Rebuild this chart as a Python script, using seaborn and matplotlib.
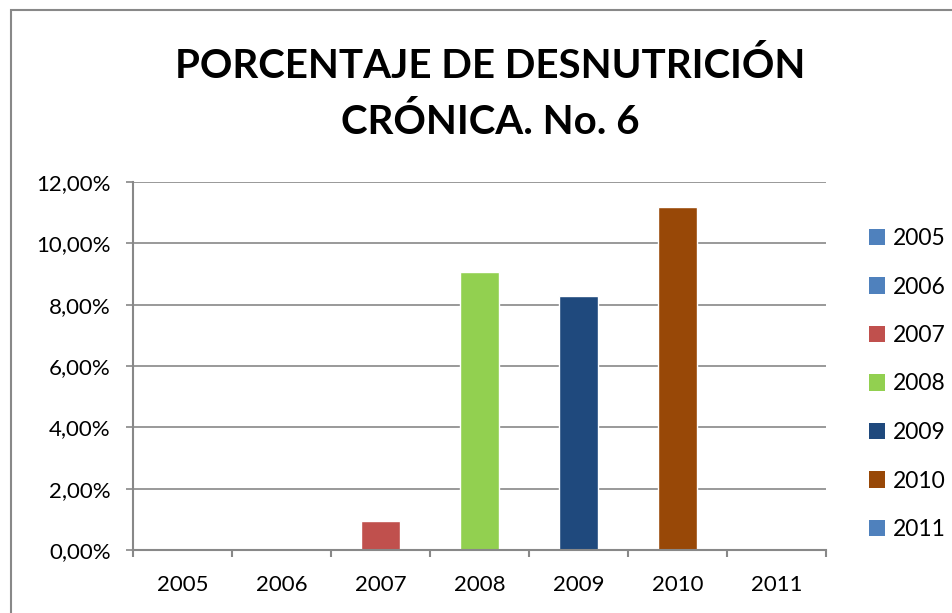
import matplotlib
matplotlib.use('Agg')
import matplotlib.pyplot as plt
from matplotlib.patches import Rectangle, Patch
from matplotlib.ticker import FuncFormatter, FixedLocator
import seaborn as sns
import pandas as pd

# Data
years = ['2005', '2006', '2007', '2008', '2009', '2010', '2011']
values = [0.0, 0.0, 0.93, 9.07, 8.28, 11.18, 0.0]  # percent
colors = ['#4F81BD', '#4F81BD', '#C0504D', '#92D050', '#1F497D', '#984807', '#4F81BD']
title = 'PORCENTAJE DE DESNUTRICIÓN\nCRÓNICA. No. 6'

sns.set_style('white')
plt.rcParams['font.family'] = ['Lato', 'DejaVu Sans']
plt.rcParams['text.color'] = 'black'

df = pd.DataFrame({'year': years, 'value': values})
palette = dict(zip(years, colors))

fig = plt.figure(figsize=(9.53, 6.13), dpi=100)
ax = fig.add_axes([133 / 953, 1 - 550 / 613, (826 - 133) / 953, (550 - 182) / 613])

sns.barplot(data=df, x='year', y='value', hue='year', palette=palette,
            width=0.4, legend=False, saturation=1, ax=ax)

grid_c = '#888888'
ax.set_ylim(0, 12)
ax.set_xlim(-0.5, len(years) - 0.5)
ax.set_yticks(range(0, 13, 2))
ax.yaxis.set_major_formatter(FuncFormatter(lambda v, p: f'{v:.2f}%'.replace('.', ',')))
ax.yaxis.grid(True, color=grid_c, linewidth=1.2)
ax.set_axisbelow(True)
ax.set_xlabel('')
ax.set_ylabel('')

for s in ['top', 'right']:
    ax.spines[s].set_visible(False)
for s in ['left', 'bottom']:
    ax.spines[s].set_color(grid_c)
    ax.spines[s].set_linewidth(1.5)

ax.tick_params(axis='y', length=5, width=1.2, color=grid_c, labelcolor='black',
               labelsize=16, pad=11, left=True)
ax.tick_params(axis='x', which='major', length=0, labelsize=16, pad=18,
               labelcolor='black')
ax.xaxis.set_minor_locator(FixedLocator([i - 0.5 for i in range(len(years) + 1)]))
ax.tick_params(axis='x', which='minor', length=5, width=1.5, color=grid_c, bottom=True)

# legend with square markers
handles = [Patch(facecolor=c, edgecolor='none', label=y) for y, c in zip(years, colors)]
fig.legend(handles=handles, loc='center left', bbox_to_anchor=(860 / 953, 1 - 384 / 613),
           frameon=False, fontsize=16.5, handlelength=0.7, handleheight=0.7,
           handletextpad=0.35, labelspacing=1.2, borderaxespad=0, labelcolor='black')

fig.text(490 / 953, 1 - 94 / 613, title, ha='center', va='center', color='black',
         fontsize=29, fontweight='bold', linespacing=1.6)

# chart area border
fig.patches.append(Rectangle((11 / 953, -0.1), 1.2, 1.1 - 10 / 613,
                             transform=fig.transFigure, fill=False,
                             edgecolor=grid_c, linewidth=1.5))

plt.savefig('out.png', dpi=100)
plt.close()
